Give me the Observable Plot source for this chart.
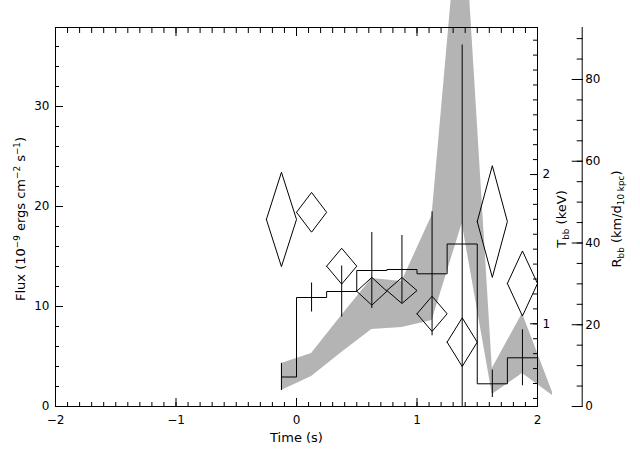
<!DOCTYPE html>
<html><head><meta charset="utf-8">
<script src="https://cdn.jsdelivr.net/npm/d3@7"></script>
<script src="https://cdn.jsdelivr.net/npm/@observablehq/plot@0.6"></script>
<style>html,body{margin:0;padding:0;background:#fff;} #chart{width:640px;height:457px;overflow:hidden}</style>
</head><body><div id="chart"></div>
<script>
// ---- data ----
const binCenters = [-0.125, 0.125, 0.375, 0.625, 0.875, 1.125, 1.375, 1.625, 1.875];
const binHalfWidth = 0.125;
const flux    = [2.95, 10.9, 11.5, 13.6, 13.7, 13.27, 16.25, 2.27, 4.87];
const fluxErr = [1.35, 1.45, 2.55, 3.8, 3.4, 6.2, 19.9, 1.37, 2.8];
const tbb     = [1.699, 1.747, 1.386, 1.218, 1.223, 1.067, 0.877, 1.685, 1.270];
const tbbErr  = [0.316, 0.133, 0.12, 0.093, 0.087, 0.118, 0.163, 0.374, 0.218];
const bandTimes = [-0.125, 0.125, 0.375, 0.625, 0.875, 1.125, 1.375, 1.625, 1.875, 2.125];
const rbbLow  = [3.91, 7.34, 13.21, 18.84, 19.33, 21.04, 44.77, 2.94, 8.07, 2.69];
const rbbHigh = [10.52, 12.97, 22.26, 31.31, 30.58, 46.73, 130, 9.30, 22.75, 3.43];

// ---- axes ----
const timeDomain = [-2, 2];
const fluxDomain = [0, 37.9];
const tbbDomain  = [0.446, 2.985];
const rbbDomain  = [0, 92.72];
const timeTicks = [-2, -1, 0, 1, 2];
const timeMinor = d3.range(-20, 21).map(i => i / 10);
const fluxTicks = [0, 10, 20, 30];
const fluxMinor = d3.range(0, 38, 2);
const tbbTicks  = [1, 2];
const tbbMinor  = d3.range(5, 30).map(i => i / 10);
const rbbTicks  = [0, 20, 40, 60, 80];
const rbbMinor  = d3.range(0, 95, 5);

const xLabel = "Time (s)";
const fluxLabelParts = [["Flux (10", ""], ["\u22129", "sup"], [" ergs cm", ""], ["\u22122", "sup"], [" s", ""], ["\u22121", "sup"], [")", ""]];
const tbbLabelParts  = [["T", ""], ["bb", "sub"], [" (keV)", ""]];
const rbbLabelParts  = [["R", ""], ["bb", "sub"], [" (km/d", ""], ["10 kpc", "sub"], [")", ""]];

// secondary axes expressed in the flux (y) scale
const tToF = d3.scaleLinear(tbbDomain, fluxDomain);
const rToF = d3.scaleLinear(rbbDomain, fluxDomain);
const fmt = d => d < 0 ? "\u2212" + (-d) : String(d);
const plain = parts => parts.map(p => p[0]).join("");

const edges = binCenters.map((c, i) => i === 0 ? c : c - binHalfWidth);
const stepData = edges.map((e, i) => ({x: e, y: flux[i]}))
  .concat([{x: binCenters[binCenters.length - 1] + binHalfWidth, y: flux[flux.length - 1]}]);
const errData = binCenters.map((c, i) => ({x: c, y1: flux[i] - fluxErr[i], y2: flux[i] + fluxErr[i]}));
const diamondData = binCenters.flatMap((c, i) => {
  const m = tToF(tbb[i]), hi = tToF(tbb[i] + tbbErr[i]), lo = tToF(tbb[i] - tbbErr[i]);
  return [[c - binHalfWidth, m], [c, hi], [c + binHalfWidth, m], [c, lo], [c - binHalfWidth, m]]
    .map(([x, y]) => ({id: i, x, y}));
});
const bandData = bandTimes.map((t, i) => ({x: t, lo: rToF(rbbLow[i]), hi: rToF(rbbHigh[i])}));

const outerOffset = 44.7;
const titleOpts = {text: d => d, fontSize: 13, textAnchor: "middle", lineAnchor: "middle"};

const chart = Plot.plot({
  width: 640, height: 457,
  marginLeft: 55, marginRight: 103, marginTop: 27, marginBottom: 51,
  x: {domain: timeDomain},
  y: {domain: fluxDomain},
  style: {fontFamily: "DejaVu Sans", fontSize: "12px", background: "#fff", color: "#000", overflow: "visible"},
  marks: [
    Plot.areaY(bandData, {x: "x", y1: "lo", y2: "hi", fill: "#b4b4b4", curve: "linear"}),
    Plot.line(stepData, {x: "x", y: "y", curve: "step-after", stroke: "#000", strokeWidth: 1}),
    Plot.ruleX(errData, {x: "x", y1: "y1", y2: "y2", stroke: "#000", strokeWidth: 1, clip: true}),
    Plot.line(diamondData, {x: "x", y: "y", z: "id", stroke: "#000", strokeWidth: 1}),
    Plot.frame({stroke: "#000"}),
    // x axis ticks (bottom/top, inward)
    Plot.axisX(timeTicks, {anchor: "bottom", tickSize: 8, insetBottom: 8, fill: "none"}),
    Plot.axisX(timeMinor, {anchor: "bottom", tickSize: 4, insetBottom: 4, fill: "none"}),
    Plot.axisX(timeTicks, {anchor: "top", tickSize: 8, insetTop: 8, fill: "none"}),
    Plot.axisX(timeMinor, {anchor: "top", tickSize: 5, insetTop: 5, fill: "none"}),
    Plot.axisX(timeTicks, {anchor: "bottom", tickSize: 0, tickPadding: 9, label: null, tickFormat: fmt}),
    // left flux axis
    Plot.axisY(fluxTicks, {anchor: "left", tickSize: 8, insetLeft: 8, fill: "none"}),
    Plot.axisY(fluxMinor, {anchor: "left", tickSize: 4, insetLeft: 4, fill: "none"}),
    Plot.axisY(fluxTicks, {anchor: "left", tickSize: 0, tickPadding: 6, label: null, tickFormat: fmt}),
    // inner right T_bb axis
    Plot.axisY(tbbTicks.map(tToF), {anchor: "right", tickSize: 8, insetRight: 8, fill: "none"}),
    Plot.axisY(tbbMinor.map(tToF), {anchor: "right", tickSize: 5, insetRight: 5, fill: "none"}),
    Plot.axisY(tbbTicks.map(tToF), {anchor: "right", tickSize: 0, tickPadding: 5, label: null, tickFormat: (d, i) => String(tbbTicks[i])}),
    // outer right R_bb axis
    Plot.ruleX([timeDomain[1]], {dx: outerOffset, stroke: "#000"}),
    Plot.axisY(rbbTicks.map(rToF), {anchor: "right", tickSize: 11, dx: outerOffset - 11, fill: "none"}),
    Plot.axisY(rbbMinor.map(rToF), {anchor: "right", tickSize: 6, dx: outerOffset - 6, fill: "none"}),
    Plot.axisY(rbbTicks.map(rToF), {anchor: "right", tickSize: 0, tickPadding: 3, dx: outerOffset, label: null, tickFormat: (d, i) => String(rbbTicks[i])}),
    // axis titles
    Plot.text([xLabel], {...titleOpts, frameAnchor: "bottom", dy: 31}),
    Plot.text([plain(fluxLabelParts)], {...titleOpts, frameAnchor: "left", dx: -35, dy: 2, rotate: -90}),
    Plot.text([plain(tbbLabelParts)], {...titleOpts, frameAnchor: "right", dx: 24, dy: 2, rotate: -90}),
    Plot.text([plain(rbbLabelParts)], {...titleOpts, frameAnchor: "right", dx: 79, dy: 2, rotate: -90})
  ]
});
document.getElementById("chart").appendChild(chart);

function richLabel(svg, parts, size) {
  const s = plain(parts);
  d3.select(svg).selectAll("text").filter(function() { return this.textContent === s; }).each(function() {
    const t = d3.select(this);
    t.text(null);
    let shift = 0;
    for (const [str, kind] of parts) {
      const target = kind === "sup" ? -5 : kind === "sub" ? 3.5 : 0;
      t.append("tspan").attr("dy", target - shift).attr("font-size", kind ? size * 0.68 : size).text(str);
      shift = target;
    }
  });
}
richLabel(chart, fluxLabelParts, 13);
richLabel(chart, tbbLabelParts, 13);
richLabel(chart, rbbLabelParts, 13);
</script>
</body></html>
